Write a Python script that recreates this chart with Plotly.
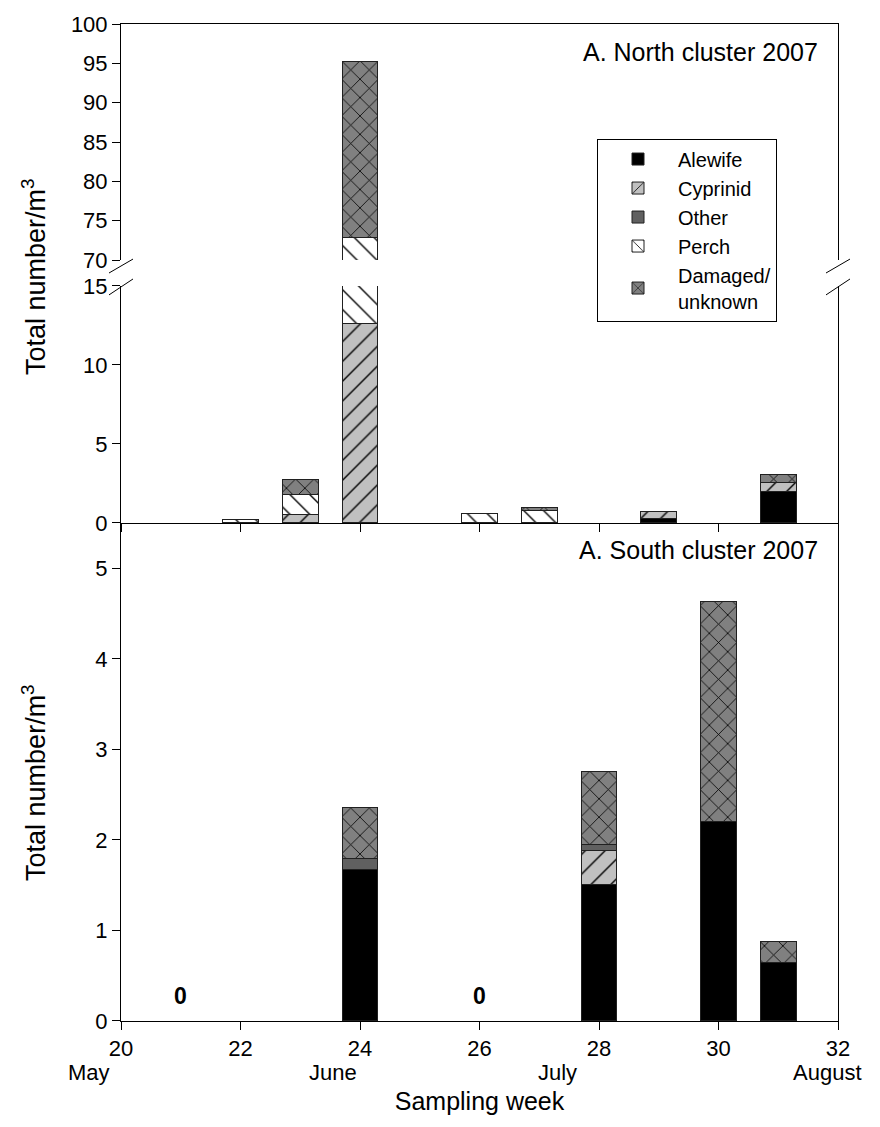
import plotly.graph_objects as go

# ---------------- data ----------------
series = ["Alewife", "Cyprinid", "Other", "Perch", "Damaged/<br>unknown"]

weeks_north = [22, 23, 24, 26, 27, 29, 31]
alewife_north = [None, None, None, None, None, 0.27, 2.0]
cyprinid_north = [None, 0.52, 12.6, None, None, 0.44, 0.54]
other_north = [None, None, None, None, None, None, None]
perch_north = [0.25, 1.26, 60.3, 0.62, 0.77, None, None]
damaged_north = [None, 0.95, 22.3, None, 0.23, None, 0.56]

weeks_south = [24, 28, 30, 31]
alewife_south = [1.67, 1.51, 2.20, 0.65]
cyprinid_south = [None, 0.37, None, None]
other_south = [0.13, 0.07, None, None]
perch_south = [None, None, None, None]
damaged_south = [0.56, 0.81, 2.43, 0.23]

zero_weeks_south = [21, 26]
zero_labels = ["0", "0"]

x_ticks = [20, 22, 24, 26, 28, 30, 32]
months = ["May", "June", "July", "August"]
month_pos = [19.46, 23.55, 27.3, 31.83]

# ---------------- styles ----------------
styles = [
    dict(color="#000000", pattern=dict(shape="")),
    dict(color="#c0c0c0", pattern=dict(shape="/", fgcolor="#000000", fgopacity=1, size=14, solidity=0.1)),
    dict(color="#606060", pattern=dict(shape="")),
    dict(color="#ffffff", pattern=dict(shape="\\", fgcolor="#000000", fgopacity=1, size=14, solidity=0.1)),
    dict(color="#808080", pattern=dict(shape="x", fgcolor="#000000", fgopacity=1, size=13, solidity=0.12)),
]

W, H = 880, 1127
L, R, T, B = 121, 42, 20, 106
PW, PH = W - L - R, H - T - B
X0, X1 = 20, 32


def px_x(px):
    return (px - L) / PW


def px_y(py):
    return (H - B - py) / PH


def wk_x(w):
    return (w - X0) / (X1 - X0)


FONT = "Liberation Sans, Arial, sans-serif"

fig = go.Figure()

north = [alewife_north, cyprinid_north, other_north, perch_north, damaged_north]
south = [alewife_south, cyprinid_south, other_south, perch_south, damaged_south]

for i, name in enumerate(series):
    st = styles[i]
    marker = dict(color=st["color"], pattern=st["pattern"],
                  line=dict(color="#202020", width=1))
    fig.add_trace(go.Bar(x=weeks_north, y=north[i], name=name, width=0.6,
                         marker=marker, xaxis="x2", yaxis="y2",
                         legendgroup=name, showlegend=True))
    fig.add_trace(go.Bar(x=weeks_north, y=north[i], name=name, width=0.6,
                         marker=marker, xaxis="x3", yaxis="y3",
                         legendgroup=name, showlegend=False))
    fig.add_trace(go.Bar(x=weeks_south, y=south[i], name=name, width=0.6,
                         marker=marker, xaxis="x", yaxis="y",
                         legendgroup=name, showlegend=False))

axis_common = dict(showline=True, linecolor="black", linewidth=1,
                   showgrid=False, zeroline=False,
                   tickfont=dict(family=FONT, size=22, color="black"),
                   ticks="outside", ticklen=8, tickcolor="black")

d_bottom = [0, px_y(521)]
d_mid = [px_y(521), px_y(283)]
d_top = [px_y(257), 1]

fig.update_layout(
    width=W, height=H,
    margin=dict(l=L, r=R, t=T, b=B),
    paper_bgcolor="white", plot_bgcolor="white",
    barmode="stack",
    font=dict(family=FONT, size=22, color="black"),
    xaxis=dict(axis_common, range=[X0, X1], tickvals=x_ticks,
               ticktext=[str(v) for v in x_ticks], anchor="y",
               title=dict(text="Sampling week", standoff=32,
                          font=dict(family=FONT, size=25))),
    xaxis2=dict(axis_common, range=[X0, X1], tickvals=x_ticks,
                showticklabels=False, anchor="y2", matches="x"),
    xaxis3=dict(showline=True, linecolor="black", linewidth=1, showgrid=False,
                zeroline=False, range=[X0, X1], ticks="", showticklabels=False,
                anchor="y3", side="top", matches="x"),
    yaxis=dict(axis_common, domain=d_bottom, range=[0, 5.5],
               tickvals=[0, 1, 2, 3, 4, 5], mirror=True, anchor="x"),
    yaxis2=dict(axis_common, domain=d_mid, range=[0, 15],
                tickvals=[0, 5, 10, 15], mirror=True, anchor="x2"),
    yaxis3=dict(axis_common, domain=d_top, range=[70, 100],
                tickvals=[70, 75, 80, 85, 90, 95, 100], mirror=True, anchor="x3"),
    legend=dict(x=px_x(597), y=px_y(135), xanchor="left", yanchor="top",
                bgcolor="white", bordercolor="black", borderwidth=1,
                font=dict(family=FONT, size=20, color="black"),
                traceorder="normal", itemwidth=70),
    showlegend=True,
)

annotations = [
    dict(text="A. North cluster 2007", x=px_x(820), y=px_y(48), xref="paper",
         yref="paper", xanchor="right", yanchor="middle", showarrow=False,
         font=dict(family=FONT, size=25)),
    dict(text="A. South cluster 2007", x=px_x(820), y=px_y(548), xref="paper",
         yref="paper", xanchor="right", yanchor="middle", showarrow=False,
         font=dict(family=FONT, size=25)),
    dict(text="Total number/m<sup>3</sup>", x=px_x(34), y=px_y(274),
         xref="paper", yref="paper", textangle=-90, showarrow=False,
         xanchor="center", yanchor="middle", font=dict(family=FONT, size=27)),
    dict(text="Total number/m<sup>3</sup>", x=px_x(34), y=px_y(782),
         xref="paper", yref="paper", textangle=-90, showarrow=False,
         xanchor="center", yanchor="middle", font=dict(family=FONT, size=27)),
]
for wk, lab in zip(zero_weeks_south, zero_labels):
    annotations.append(dict(text=f"<b>{lab}</b>", x=wk, y=0.28, xref="x", yref="y",
                            showarrow=False, font=dict(family=FONT, size=23)))
for m, pos in zip(months, month_pos):
    annotations.append(dict(text=m, x=wk_x(pos), y=px_y(1073), xref="paper",
                            yref="paper", showarrow=False, yanchor="middle",
                            xanchor="center", font=dict(family=FONT, size=22)))
fig.update_layout(annotations=annotations)

# axis break marks
shapes = []
for (x0, y0, x1, y1) in [(109, 270, 133, 256), (109, 292, 133, 276),
                         (826, 270, 850, 256), (826, 292, 850, 276)]:
    shapes.append(dict(type="line", xref="paper", yref="paper",
                       x0=px_x(x0), y0=px_y(y0), x1=px_x(x1), y1=px_y(y1),
                       line=dict(color="black", width=1)))
fig.update_layout(shapes=shapes)

fig.write_html("out.html")
